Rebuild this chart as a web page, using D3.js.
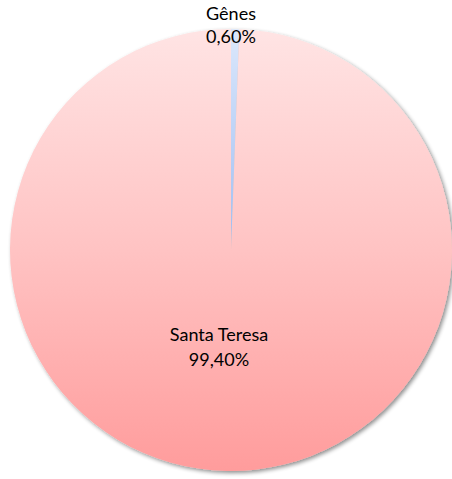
<!DOCTYPE html>
<html>
<head>
<meta charset="utf-8">
<script src="https://cdn.jsdelivr.net/npm/d3@7"></script>
<style>
  body { margin: 0; background: #fff; }
  text { font-family: Lato, "Open Sans", sans-serif; font-size: 18px; fill: #000; }
</style>
</head>
<body>
<div id="chart"></div>
<script>
const categories = ['Gênes', 'Santa Teresa']
const values = [0.6, 99.4]
const valueLabels = ['0,60%', '99,40%']

const width = 452
const height = 479
const cx = 231
const cy = 250
const radius = 221

const svg = d3.select('#chart')
  .append('svg')
  .attr('width', width)
  .attr('height', height)

const defs = svg.append('defs')

// gradients are in the pie group's coords (centered at 0,0)
const gradPink = defs.append('linearGradient')
  .attr('id', 'gradPink')
  .attr('gradientUnits', 'userSpaceOnUse')
  .attr('x1', 0).attr('y1', -radius)
  .attr('x2', 0).attr('y2', radius)
gradPink.append('stop').attr('offset', '0%').attr('stop-color', '#ffe4e4')
gradPink.append('stop').attr('offset', '50%').attr('stop-color', '#ffc3c3')
gradPink.append('stop').attr('offset', '100%').attr('stop-color', '#ff9c9c')

const gradBlue = defs.append('linearGradient')
  .attr('id', 'gradBlue')
  .attr('gradientUnits', 'userSpaceOnUse')
  .attr('x1', 0).attr('y1', -radius)
  .attr('x2', 0).attr('y2', 0)
gradBlue.append('stop').attr('offset', '0%').attr('stop-color', '#dce8fb')
gradBlue.append('stop').attr('offset', '100%').attr('stop-color', '#9cbcf2')

const shadow = defs.append('filter')
  .attr('id', 'shadow')
  .attr('x', '-10%').attr('y', '-10%')
  .attr('width', '120%').attr('height', '120%')
shadow.append('feGaussianBlur').attr('in', 'SourceAlpha').attr('stdDeviation', 2)
shadow.append('feOffset').attr('dx', 2).attr('dy', 2).attr('result', 'blur')
shadow.append('feComponentTransfer').append('feFuncA').attr('type', 'linear').attr('slope', 0.45)
const merge = shadow.append('feMerge')
merge.append('feMergeNode')
merge.append('feMergeNode').attr('in', 'SourceGraphic')

const fills = ['url(#gradBlue)', 'url(#gradPink)']

const pie = d3.pie().sort(null)
const arcs = pie(values)
const arc = d3.arc().innerRadius(0).outerRadius(radius)

const g = svg.append('g')
  .attr('transform', `translate(${cx},${cy})`)

g.append('g')
  .attr('filter', 'url(#shadow)')
  .selectAll('path')
  .data(arcs)
  .enter()
  .append('path')
  .attr('d', arc)
  .attr('fill', (d, i) => fills[i])

// label positions (relative to center), plus line spacing
const labelPos = [[0, -230], [-12, 91]]
const lineGap = [23, 25]

const labels = svg.append('g')
  .selectAll('text')
  .data(arcs)
  .enter()
  .append('text')
  .attr('text-anchor', 'middle')
  .attr('x', (d, i) => cx + labelPos[i][0])
  .attr('y', (d, i) => cy + labelPos[i][1])

labels.append('tspan')
  .attr('x', (d, i) => cx + labelPos[i][0])
  .text((d, i) => categories[i])
labels.append('tspan')
  .attr('x', (d, i) => cx + labelPos[i][0])
  .attr('dy', (d, i) => lineGap[i])
  .text((d, i) => valueLabels[i])
</script>
</body>
</html>
